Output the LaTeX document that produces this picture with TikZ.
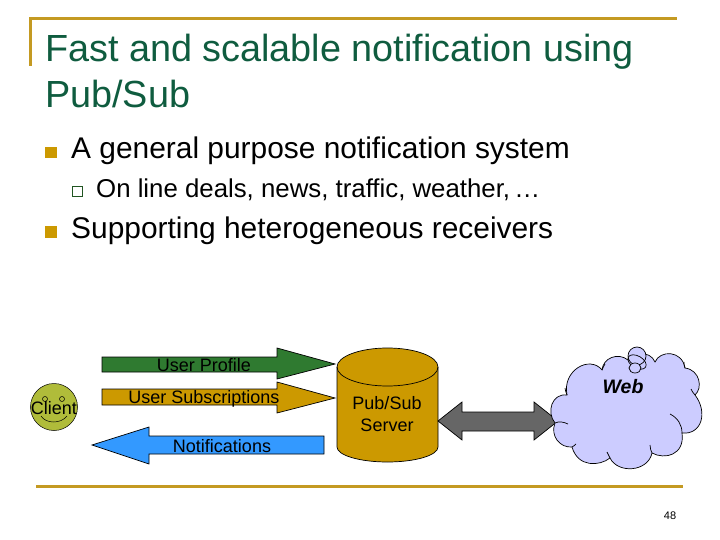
\documentclass[tikz,border=0pt]{standalone}
\usepackage{fontspec}
\setmainfont{Liberation Sans}
\usepackage{tikz}
\usetikzlibrary{positioning}
\definecolor{titlegreen}{HTML}{0F5C3F}
\definecolor{rulegold}{HTML}{C49A22}
\definecolor{bulletgold}{HTML}{CC9900}
\definecolor{profilegreen}{HTML}{2F7A30}
\definecolor{notifyblue}{HTML}{3399FF}
\definecolor{cloudblue}{HTML}{CCCCFF}
\definecolor{clientgreen}{HTML}{B0BC3A}
\definecolor{linkgray}{HTML}{666666}
\tikzset{
  bodytext/.style={anchor=base west,inner sep=0pt},
  titletext/.style={bodytext,text=titlegreen,font=\fontsize{37.8}{38}\selectfont},
  leveltext/.style={bodytext,font=\fontsize{29.9}{30}\selectfont},
  subtext/.style={bodytext,font=\fontsize{25.8}{26}\selectfont},
  shapelabel/.style={inner sep=0pt,align=center,font=\fontsize{18}{22}\selectfont},
  goldrule/.style={draw=rulegold,line width=3pt},
  blockarrow/.style={draw=black,line width=0.7pt,line join=miter}
}
\begin{document}
\begin{tikzpicture}[x=1pt,y=-1pt]
\useasboundingbox (0,0) rectangle (720,540);
% frame
\draw[goldrule] (30,66)--(30,19)--(677,19);
\draw[goldrule] (36,486)--(683,486);
% text
\node[titletext] (titleone) at (45,62) {Fast and scalable notification using};
\node[titletext] (titletwo) at (45,108) {Pub/Sub};
\fill[bulletgold] (45,147) rectangle (57,158);
\node[leveltext] (levelone) at (71,159) {A general purpose notification system};
\draw[draw=profilegreen!70!black,line width=0.8pt] (72,186) rectangle (82,196);
\node[subtext] (sublevel) at (96,197) {On line deals, news, traffic, weather,\,…};
\fill[bulletgold] (45,226) rectangle (57,238);
\node[leveltext] (leveltwo) at (71,239) {Supporting heterogeneous receivers};
% client
\filldraw[fill=clientgreen,draw=black,line width=0.5pt] (54,407) circle (23.5);
\draw[line width=0.5pt] (45,399) circle (2.5) (62,399) circle (2.5);
\draw[line width=0.5pt] (41,416) .. controls (46,424) and (61,424) .. (67,416);
\node[shapelabel] (client) at (54,408) {Client};
% arrows
\filldraw[blockarrow,fill=profilegreen] (102,357)--(277,357)--(277,348)--(335,364)--(277,379)--(277,372)--(102,372)--cycle;
\node[shapelabel] (profile) at (204,365) {User Profile};
\filldraw[blockarrow,fill=bulletgold] (102,389)--(277,389)--(277,382)--(335,398)--(277,413)--(277,405)--(102,405)--cycle;
\node[shapelabel] (subscriptions) at (204,399) {User Subscriptions};
\filldraw[blockarrow,fill=notifyblue] (324,436)--(149,436)--(149,427)--(92,445)--(149,464)--(149,454)--(324,454)--cycle;
\node[shapelabel] (notifications) at (222,446) {Notifications};
% server
\filldraw[blockarrow,fill=bulletgold] (337,367) arc[start angle=180,end angle=360,x radius=50.5,y radius=19]
  --(438,447) arc[start angle=0,end angle=180,x radius=50.5,y radius=15]--cycle;
\draw[blockarrow] (337,367) arc[start angle=180,end angle=0,x radius=50.5,y radius=19];
\node[shapelabel] (server) at (387,414) {Pub/Sub\\Server};
% link
\filldraw[blockarrow,fill=linkgray] (438,421)--(462,402)--(462,412)--(534,412)--(534,402)--(558,421)--(534,440)--(534,431)--(462,431)--(462,440)--cycle;
% web
\filldraw[blockarrow,fill=cloudblue] (567,395)
  .. controls (562,370) and (590,355) .. (602,370)
  .. controls (603,358) and (618,352) .. (628,360)
  .. controls (632,352) and (650,350) .. (655,362)
  .. controls (660,350) and (682,350) .. (685,368)
  .. controls (700,370) and (703,388) .. (695,395)
  .. controls (708,412) and (702,435) .. (682,433)
  .. controls (685,455) and (665,460) .. (652,453)
  .. controls (648,472) and (618,474) .. (610,458)
  .. controls (600,466) and (578,468) .. (572,447)
  .. controls (560,448) and (550,436) .. (555,423)
  .. controls (546,412) and (552,393) .. (567,395) -- cycle;
% inner creases
\draw[blockarrow] (670,414) .. controls (678,418) and (682,425) .. (682,433);
\draw[blockarrow] (555,423) .. controls (559,421) and (564,422) .. (568,424);
\draw[blockarrow] (567,395) .. controls (566,392) and (565,390) .. (565,388);
\draw[blockarrow] (602,370) .. controls (603,367) and (604,366) .. (605,364);
\draw[blockarrow] (652,453) .. controls (651,451) and (650,448) .. (650,445);
\draw[blockarrow] (610,458) .. controls (609,456) and (608,454) .. (607,452);
\draw[blockarrow] (572,447) .. controls (574,446) and (575,445) .. (576,444);
\draw[blockarrow] (695,395) .. controls (693,393) and (692,391) .. (691,389);
\draw[blockarrow] (685,368) .. controls (684,366) and (684,364) .. (684,362);
\filldraw[blockarrow,fill=cloudblue] (637,356) circle (9);
\draw[blockarrow] (637,362) circle[x radius=10,y radius=6,rotate=-30];
\filldraw[blockarrow,fill=cloudblue] (635,368) circle[x radius=6,y radius=5];
\node[shapelabel,font=\fontsize{19.5}{22}\selectfont\bfseries\itshape] (web) at (623,387) {Web};
% page
\node[inner sep=0pt,font=\fontsize{11}{12}\selectfont] (page) at (670,516) {48};
\end{tikzpicture}
\end{document}
